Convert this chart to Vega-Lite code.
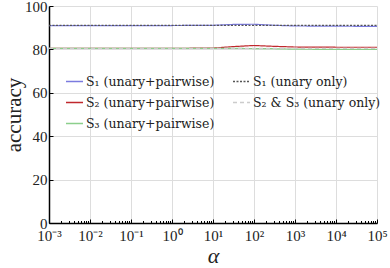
{
  "$schema": "https://vega.github.io/schema/vega-lite/v6.json",
  "width": 328,
  "height": 217,
  "autosize": {"type": "none"},
  "padding": {"left": 49, "top": 6, "right": 13, "bottom": 45},
  "config": {
    "view": {"stroke": null},
    "font": "Liberation Serif",
    "legend": {"labelFont": "DejaVu Serif"},
    "axis": {
      "domainColor": "#000000",
      "domainWidth": 1.5,
      "gridColor": "#dddddd",
      "gridWidth": 1,
      "tickColor": "#000000",
      "labelColor": "#222222",
      "titleColor": "#222222",
      "labelFont": "Liberation Serif",
      "titleFont": "Liberation Serif",
      "titleFontWeight": "normal"
    }
  },
  "data": {
    "values": [
      {"series": "S₁ (unary+pairwise)", "alpha": 0.001, "acc": 91.0},
      {"series": "S₁ (unary+pairwise)", "alpha": 0.01, "acc": 91.0},
      {"series": "S₁ (unary+pairwise)", "alpha": 0.1, "acc": 91.0},
      {"series": "S₁ (unary+pairwise)", "alpha": 1, "acc": 91.0},
      {"series": "S₁ (unary+pairwise)", "alpha": 10, "acc": 91.1},
      {"series": "S₁ (unary+pairwise)", "alpha": 31.6, "acc": 91.5},
      {"series": "S₁ (unary+pairwise)", "alpha": 100, "acc": 91.6},
      {"series": "S₁ (unary+pairwise)", "alpha": 316, "acc": 91.1},
      {"series": "S₁ (unary+pairwise)", "alpha": 1000, "acc": 90.8},
      {"series": "S₁ (unary+pairwise)", "alpha": 10000, "acc": 90.7},
      {"series": "S₁ (unary+pairwise)", "alpha": 100000, "acc": 90.6},
      {"series": "S₂ (unary+pairwise)", "alpha": 0.001, "acc": 80.5},
      {"series": "S₂ (unary+pairwise)", "alpha": 0.01, "acc": 80.5},
      {"series": "S₂ (unary+pairwise)", "alpha": 0.1, "acc": 80.5},
      {"series": "S₂ (unary+pairwise)", "alpha": 1, "acc": 80.5},
      {"series": "S₂ (unary+pairwise)", "alpha": 10, "acc": 80.6},
      {"series": "S₂ (unary+pairwise)", "alpha": 31.6, "acc": 81.3},
      {"series": "S₂ (unary+pairwise)", "alpha": 100, "acc": 81.8},
      {"series": "S₂ (unary+pairwise)", "alpha": 316, "acc": 81.4},
      {"series": "S₂ (unary+pairwise)", "alpha": 1000, "acc": 81.1},
      {"series": "S₂ (unary+pairwise)", "alpha": 10000, "acc": 81.0},
      {"series": "S₂ (unary+pairwise)", "alpha": 100000, "acc": 81.0},
      {"series": "S₃ (unary+pairwise)", "alpha": 0.001, "acc": 80.5},
      {"series": "S₃ (unary+pairwise)", "alpha": 0.01, "acc": 80.5},
      {"series": "S₃ (unary+pairwise)", "alpha": 0.1, "acc": 80.5},
      {"series": "S₃ (unary+pairwise)", "alpha": 1, "acc": 80.5},
      {"series": "S₃ (unary+pairwise)", "alpha": 10, "acc": 80.5},
      {"series": "S₃ (unary+pairwise)", "alpha": 100, "acc": 80.4},
      {"series": "S₃ (unary+pairwise)", "alpha": 316, "acc": 80.3},
      {"series": "S₃ (unary+pairwise)", "alpha": 1000, "acc": 80.1},
      {"series": "S₃ (unary+pairwise)", "alpha": 10000, "acc": 80.0},
      {"series": "S₃ (unary+pairwise)", "alpha": 100000, "acc": 80.0},
      {"series": "S₁ (unary only)", "alpha": 0.001, "acc": 91.1},
      {"series": "S₁ (unary only)", "alpha": 0.01, "acc": 91.1},
      {"series": "S₁ (unary only)", "alpha": 0.1, "acc": 91.1},
      {"series": "S₁ (unary only)", "alpha": 1, "acc": 91.1},
      {"series": "S₁ (unary only)", "alpha": 10, "acc": 91.1},
      {"series": "S₁ (unary only)", "alpha": 100, "acc": 91.1},
      {"series": "S₁ (unary only)", "alpha": 1000, "acc": 91.1},
      {"series": "S₁ (unary only)", "alpha": 10000, "acc": 91.1},
      {"series": "S₁ (unary only)", "alpha": 100000, "acc": 91.1},
      {"series": "S₂ & S₃ (unary only)", "alpha": 0.001, "acc": 80.5},
      {"series": "S₂ & S₃ (unary only)", "alpha": 0.01, "acc": 80.5},
      {"series": "S₂ & S₃ (unary only)", "alpha": 0.1, "acc": 80.5},
      {"series": "S₂ & S₃ (unary only)", "alpha": 1, "acc": 80.5},
      {"series": "S₂ & S₃ (unary only)", "alpha": 10, "acc": 80.5},
      {"series": "S₂ & S₃ (unary only)", "alpha": 100, "acc": 80.5},
      {"series": "S₂ & S₃ (unary only)", "alpha": 1000, "acc": 80.5},
      {"series": "S₂ & S₃ (unary only)", "alpha": 10000, "acc": 80.5},
      {"series": "S₂ & S₃ (unary only)", "alpha": 100000, "acc": 80.5}
    ]
  },
  "mark": {"type": "line", "strokeWidth": 1.2, "clip": true},
  "encoding": {
    "x": {
      "field": "alpha",
      "type": "quantitative",
      "scale": {"type": "log", "domain": [0.001, 100000], "nice": false},
      "axis": {
        "title": "α",
        "titleFontSize": 22,
        "titleFontStyle": "italic",
        "titlePadding": 1,
        "labelFontSize": 15,
        "labelPadding": 9,
        "labelOverlap": false,
        "labelFlush": false,
        "values": [0.001, 0.002, 0.003, 0.004, 0.005, 0.006, 0.007, 0.008, 0.009,
                   0.01, 0.02, 0.03, 0.04, 0.05, 0.06, 0.07, 0.08, 0.09,
                   0.1, 0.2, 0.3, 0.4, 0.5, 0.6, 0.7, 0.8, 0.9,
                   1, 2, 3, 4, 5, 6, 7, 8, 9,
                   10, 20, 30, 40, 50, 60, 70, 80, 90,
                   100, 200, 300, 400, 500, 600, 700, 800, 900,
                   1000, 2000, 3000, 4000, 5000, 6000, 7000, 8000, 9000,
                   10000, 20000, 30000, 40000, 50000, 60000, 70000, 80000, 90000,
                   100000],
        "labelExpr": "abs(log(datum.value)/LN10 - round(log(datum.value)/LN10)) < 0.01 ? '10' + ['⁻³','⁻²','⁻¹','⁰','¹','²','³','⁴','⁵'][round(log(datum.value)/LN10)+3] : ''",
        "gridOpacity": {"condition": {"test": "abs(log(datum.value)/LN10 - round(log(datum.value)/LN10)) < 0.01", "value": 1}, "value": 0},
        "tickSize": {"condition": {"test": "abs(log(datum.value)/LN10 - round(log(datum.value)/LN10)) < 0.01", "value": -4}, "value": -2.5},
        "tickWidth": 1
      }
    },
    "y": {
      "field": "acc",
      "type": "quantitative",
      "scale": {"domain": [0, 100], "nice": false, "zero": true},
      "axis": {
        "title": "accuracy",
        "titleFontSize": 21,
        "titlePadding": 0,
        "labelFontSize": 15,
        "labelPadding": 6,
        "values": [0, 20, 40, 60, 80, 100],
        "tickSize": -4,
        "tickWidth": 1
      }
    },
    "color": {
      "field": "series",
      "type": "nominal",
      "sort": ["S₁ (unary+pairwise)", "S₂ (unary+pairwise)", "S₃ (unary+pairwise)", "S₁ (unary only)", "S₂ & S₃ (unary only)"],
      "scale": {
        "domain": ["S₁ (unary+pairwise)", "S₂ (unary+pairwise)", "S₃ (unary+pairwise)", "S₁ (unary only)", "S₂ & S₃ (unary only)"],
        "range": ["#7b7bdf", "#c0282d", "#8ccf8c", "#555555", "#cccccc"]
      },
      "legend": {
        "title": null,
        "orient": "none",
        "legendX": 16,
        "legendY": 66,
        "columns": 2,
        "columnPadding": 15,
        "rowPadding": 5,
        "padding": 0,
        "symbolType": "stroke",
        "symbolSize": 289,
        "symbolStrokeWidth": 1.5,
        "labelFont": "DejaVu Serif",
        "labelFontSize": 12.5,
        "labelOffset": 2,
        "labelColor": "#222222",
        "labelLimit": 300
      }
    },
    "strokeDash": {
      "field": "series",
      "type": "nominal",
      "sort": ["S₁ (unary+pairwise)", "S₂ (unary+pairwise)", "S₃ (unary+pairwise)", "S₁ (unary only)", "S₂ & S₃ (unary only)"],
      "scale": {
        "domain": ["S₁ (unary+pairwise)", "S₂ (unary+pairwise)", "S₃ (unary+pairwise)", "S₁ (unary only)", "S₂ & S₃ (unary only)"],
        "range": [[1, 0], [1, 0], [1, 0], [2, 1.5], [4, 3]]
      },
      "legend": {
        "title": null,
        "orient": "none",
        "legendX": 16,
        "legendY": 66,
        "columns": 2,
        "columnPadding": 15,
        "rowPadding": 5,
        "padding": 0,
        "symbolType": "stroke",
        "symbolSize": 289,
        "symbolStrokeWidth": 1.5,
        "labelFont": "DejaVu Serif",
        "labelFontSize": 12.5,
        "labelOffset": 2,
        "labelColor": "#222222",
        "labelLimit": 300
      }
    }
  }
}
